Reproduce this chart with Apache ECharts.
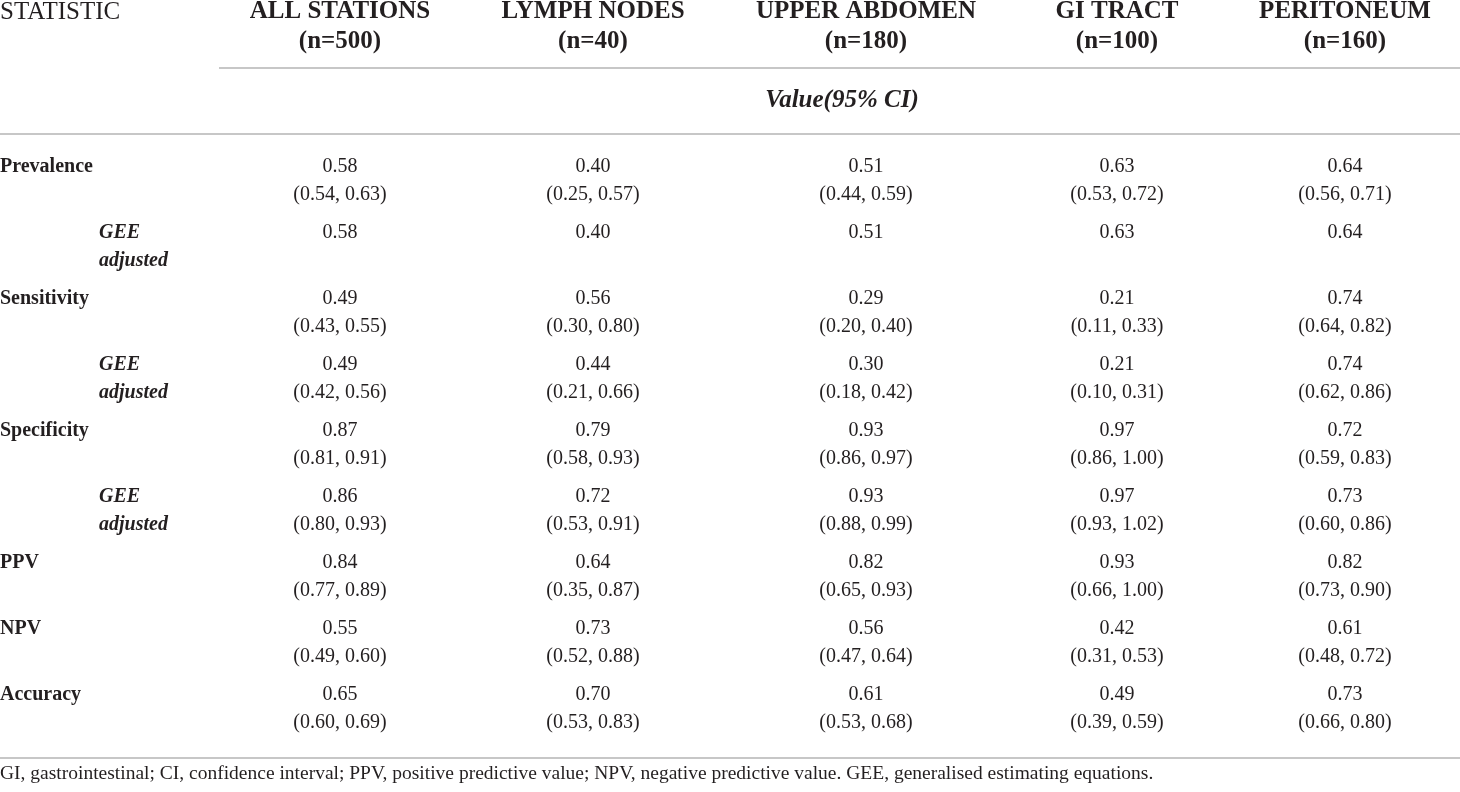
<!DOCTYPE html>
<html>
<head>
<meta charset="utf-8">
<script src="https://cdn.jsdelivr.net/npm/echarts@6/dist/echarts.min.js"></script>
<style>
  html, body { margin: 0; padding: 0; background: #fff; }
  #main { width: 1460px; height: 792px; }
</style>
</head>
<body>
<div id="main"></div>
<script>
// column headers
var stations = ['ALL STATIONS', 'LYMPH NODES', 'UPPER ABDOMEN', 'GI TRACT', 'PERITONEUM'];
var sampleSizes = [500, 40, 180, 100, 160];

// row labels
var statistics = ['Prevalence', 'GEE adjusted', 'Sensitivity', 'GEE adjusted', 'Specificity',
    'GEE adjusted', 'PPV', 'NPV', 'Accuracy'];

// value and 95% CI per row
var prevalence = [0.58, 0.40, 0.51, 0.63, 0.64];
var prevalenceCI = [[0.54, 0.63], [0.25, 0.57], [0.44, 0.59], [0.53, 0.72], [0.56, 0.71]];
var prevalenceGEE = [0.58, 0.40, 0.51, 0.63, 0.64];
var sensitivity = [0.49, 0.56, 0.29, 0.21, 0.74];
var sensitivityCI = [[0.43, 0.55], [0.30, 0.80], [0.20, 0.40], [0.11, 0.33], [0.64, 0.82]];
var sensitivityGEE = [0.49, 0.44, 0.30, 0.21, 0.74];
var sensitivityGEECI = [[0.42, 0.56], [0.21, 0.66], [0.18, 0.42], [0.10, 0.31], [0.62, 0.86]];
var specificity = [0.87, 0.79, 0.93, 0.97, 0.72];
var specificityCI = [[0.81, 0.91], [0.58, 0.93], [0.86, 0.97], [0.86, 1.00], [0.59, 0.83]];
var specificityGEE = [0.86, 0.72, 0.93, 0.97, 0.73];
var specificityGEECI = [[0.80, 0.93], [0.53, 0.91], [0.88, 0.99], [0.93, 1.02], [0.60, 0.86]];
var ppv = [0.84, 0.64, 0.82, 0.93, 0.82];
var ppvCI = [[0.77, 0.89], [0.35, 0.87], [0.65, 0.93], [0.66, 1.00], [0.73, 0.90]];
var npv = [0.55, 0.73, 0.56, 0.42, 0.61];
var npvCI = [[0.49, 0.60], [0.52, 0.88], [0.47, 0.64], [0.31, 0.53], [0.48, 0.72]];
var accuracy = [0.65, 0.70, 0.61, 0.49, 0.73];
var accuracyCI = [[0.60, 0.69], [0.53, 0.83], [0.53, 0.68], [0.39, 0.59], [0.66, 0.80]];

var footnote = 'GI, gastrointestinal; CI, confidence interval; PPV, positive predictive value; ' +
    'NPV, negative predictive value. GEE, generalised estimating equations.';

var rows = [
    { values: prevalence, ci: prevalenceCI },
    { values: prevalenceGEE, ci: null },
    { values: sensitivity, ci: sensitivityCI },
    { values: sensitivityGEE, ci: sensitivityGEECI },
    { values: specificity, ci: specificityCI },
    { values: specificityGEE, ci: specificityGEECI },
    { values: ppv, ci: ppvCI },
    { values: npv, ci: npvCI },
    { values: accuracy, ci: accuracyCI }
];

// layout (pixels on a 0..1460 x axis)
var colCenters = [340, 593, 866, 1117, 1345];
var labelX = 0, geeX = 99, lineGap = 14;
var ink = '#231f20', rule = '#b4b4b4';
var serif = '"Liberation Serif", "Times New Roman", serif';

var cellData = [];
rows.forEach(function (row, r) {
    row.values.forEach(function (v, c) { cellData.push([c, r]); });
});
var labelData = statistics.map(function (s, r) { return [0, r]; });

function fmt(v) { return v.toFixed(2); }

function txt(text, x, y, opt) {
    opt = opt || {};
    return {
        type: 'text',
        style: {
            text: text, x: x, y: y,
            align: opt.align || 'center', verticalAlign: 'middle',
            fontFamily: serif, fontSize: opt.size || 20,
            fontWeight: opt.weight || 'normal', fontStyle: opt.style || 'normal',
            fill: ink
        }
    };
}

function renderCell(params, api) {
    var c = api.value(0), r = api.value(1);
    var p = api.coord([colCenters[c], r]);
    var row = rows[r];
    var kids = [txt(fmt(row.values[c]), p[0], p[1] - lineGap)];
    if (row.ci) {
        kids.push(txt('(' + fmt(row.ci[c][0]) + ', ' + fmt(row.ci[c][1]) + ')', p[0], p[1] + lineGap));
    }
    return { type: 'group', children: kids };
}

function renderLabel(params, api) {
    var r = api.value(1);
    var name = statistics[r];
    if (name.indexOf('GEE') === 0) {
        var p = api.coord([geeX, r]);
        var parts = name.split(' ');
        return { type: 'group', children: [
            txt(parts[0], p[0], p[1] - lineGap, { align: 'left', weight: 'bold', style: 'italic' }),
            txt(parts[1], p[0], p[1] + lineGap, { align: 'left', weight: 'bold', style: 'italic' })
        ] };
    }
    var q = api.coord([labelX, r]);
    return txt(name, q[0], q[1] - lineGap, { align: 'left', weight: 'bold' });
}

var graphics = [
    txt('STATISTIC', 0, 12, { align: 'left', size: 25 }),
    { type: 'line', shape: { x1: 219, y1: 68, x2: 1460, y2: 68 }, style: { stroke: rule, lineWidth: 1.5 } },
    txt('Value(95% CI)', 842, 101, { size: 25, weight: 'bold', style: 'italic' }),
    { type: 'line', shape: { x1: 0, y1: 134, x2: 1460, y2: 134 }, style: { stroke: rule, lineWidth: 1.5 } },
    { type: 'line', shape: { x1: 0, y1: 758, x2: 1460, y2: 758 }, style: { stroke: rule, lineWidth: 1.5 } },
    txt(footnote, 0, 774, { align: 'left', size: 19.5 })
];
stations.forEach(function (s, i) {
    graphics.push(txt(s, colCenters[i], 12, { size: 25, weight: 'bold' }));
    graphics.push(txt('(n=' + sampleSizes[i] + ')', colCenters[i], 42, { size: 25, weight: 'bold' }));
});

var myChart = echarts.init(document.getElementById('main'));
var option = {
    animation: false,
    grid: { left: 0, right: 0, top: 148, height: 594 },
    xAxis: { type: 'value', min: 0, max: 1460, show: false },
    yAxis: {
        type: 'category', inverse: true, show: false,
        data: statistics.map(function (s, i) { return String(i); })
    },
    graphic: graphics,
    series: [
        { type: 'custom', name: 'labels', renderItem: renderLabel, data: labelData, silent: true },
        { type: 'custom', name: 'cells', renderItem: renderCell, data: cellData, silent: true }
    ]
};
myChart.setOption(option);
</script>
</body>
</html>
